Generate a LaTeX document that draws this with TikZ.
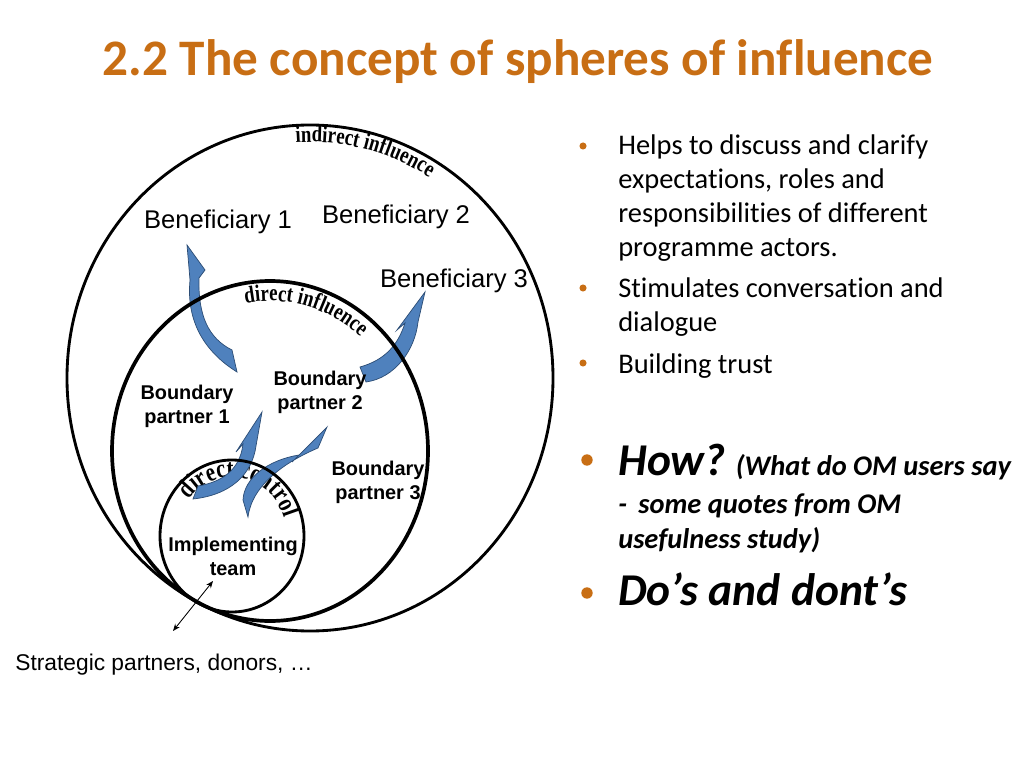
\documentclass[tikz,border=0pt]{standalone}
\usepackage{fontspec}
\setmainfont{Carlito}[Ligatures=CommonOff]
\newfontfamily\arialfont{Liberation Sans}
\newfontfamily\curvefont{Liberation Serif}[FakeStretch=0.8]
\usetikzlibrary{decorations.text, arrows.meta}
\definecolor{titleorange}{RGB}{200,110,20}
\definecolor{arrowblue}{RGB}{79,129,189}
\definecolor{arrowline}{RGB}{44,77,117}
\tikzset{
sphere/.style={draw, line width=#1}, % the three spheres
actor/.style={font=\arialfont\fontsize{18}{22}\selectfont, inner sep=0pt},
partner/.style={font=\arialfont\bfseries\fontsize{14}{17}\selectfont, align=center, inner sep=0pt},
inflarrow/.style={fill=arrowblue, draw=arrowline, line width=0.5pt}, % blue curved block arrows
itemline/.style={font=\fontsize{20}{24}\selectfont, anchor=base west, inner sep=0pt},
bulletdot/.style={circle, fill=titleorange, inner sep=0pt, minimum size=#1},
curved/.style 2 args={decorate, decoration={text along path, text align=center, text={|\curvefont\bfseries\fontsize{#2}{#2}\selectfont|#1}}},
}

\begin{document}
\begin{tikzpicture}[x=0.703125pt, y=0.703125pt]
        \useasboundingbox (0,0) rectangle (1024,-768);

        % title
        \node[font=\bfseries\fontsize{36}{42}\selectfont, text=titleorange, anchor=base, inner sep=0pt] (title) at (518,-76) {2.2 The concept of spheres of influence};

        % centres of the spheres
        \coordinate (outer) at (310,-378);
        \coordinate (middle) at (270,-451);
        \coordinate (inner) at (232,-536);

        % texts along the spheres
        \path[curved={indirect influence}{16.5}, shift={(outer)}] (110:226 and 236) arc[start angle=110, end angle=42, x radius=226, y radius=236];
        \path[curved={direct influence}{16.5}, shift={(middle)}] (112:139 and 150) arc[start angle=112, end angle=38, x radius=139, y radius=150];
        \path[curved={direct control}{18.5}, shift={(inner)}] (170:55 and 59) arc[start angle=170, end angle=-10, x radius=55, y radius=59];

        % curved arrows
        \draw[inflarrow] (187,-245) -- (205,-270) -- (199,-278) .. controls (198,-315) and (208,-338) .. (232,-350) -- (237,-372) .. controls (205,-352) and (186,-322) .. (190,-280) -- (189,-268) -- cycle;
        \draw[inflarrow] (425,-292) -- (397,-330) -- (405,-323) .. controls (398,-345) and (385,-360) .. (360,-367) -- (366,-382) .. controls (395,-378) and (415,-350) .. (418,-322) -- cycle;
        \draw[inflarrow] (262,-412) -- (236,-452) -- (243,-444) .. controls (240,-470) and (222,-482) .. (198,-486) -- (193,-499) .. controls (230,-495) and (252,-475) .. (256,-446) -- cycle;
        \draw[inflarrow] (327,-427) -- (292,-462) -- (299,-455) .. controls (268,-460) and (244,-478) .. (243,-500) -- (248,-517) .. controls (252,-485) and (285,-462) .. (318,-448) -- cycle;

        % spheres
        \draw[sphere=2pt] (outer) ellipse [x radius=243, y radius=253];
        \draw[sphere=2.6pt] (middle) ellipse [x radius=158, y radius=170];
        \draw[sphere=2pt] (inner) ellipse [x radius=72, y radius=76];

        % actors
        \node[actor] (ben1) at (218,-222) {Beneficiary 1};
        \node[actor] (ben2) at (396,-217) {Beneficiary 2};
        \node[actor] (ben3) at (454,-281) {Beneficiary 3};
        \node[partner] (bp1) at (187,-406) {Boundary\\partner 1};
        \node[partner] (bp2) at (320,-392) {Boundary\\partner 2};
        \node[partner] (bp3) at (378,-482) {Boundary\\partner 3};
        \node[partner] (team) at (233,-556) {Implementing\\team};
        \node[font=\arialfont\fontsize{16}{19}\selectfont, inner sep=0pt] (strat) at (164,-665) {Strategic partners, donors, …};

        \coordinate (stratend) at (173,-631);
        \coordinate (teamend) at (213,-581);
        \draw[<->, >={Stealth[length=5pt, width=4pt]}, line width=0.6pt] (stratend) -- (teamend);

        % bullet list
        \node[bulletdot=5pt] (d1) at (583,-146) {};
        \node[itemline] (h1) at (618,-155) {Helps to discuss and clarify};
        \node[itemline] (h2) at (618,-189) {expectations, roles and};
        \node[itemline] (h3) at (618,-223) {responsibilities of different};
        \node[itemline] (h4) at (618,-257) {programme actors.};
        \node[bulletdot=5pt] (d2) at (583,-288) {};
        \node[itemline] (s1) at (618,-298) {Stimulates conversation and};
        \node[itemline] (s2) at (618,-332) {dialogue};
        \node[bulletdot=5pt] (d3) at (583,-363) {};
        \node[itemline] (b1) at (618,-373) {Building trust};
        \node[bulletdot=8pt] (d4) at (587,-460) {};
        \node[itemline, font=\bfseries\itshape\fontsize{20}{24}\selectfont] (how) at (618,-475) {{\fontsize{32}{38}\selectfont How?}\hspace{7pt}(What do OM users say};
        \node[itemline, font=\bfseries\itshape\fontsize{20}{24}\selectfont] (q1) at (618,-513) {-\hspace{8pt}some quotes from OM};
        \node[itemline, font=\bfseries\itshape\fontsize{20}{24}\selectfont] (q2) at (618,-548) {usefulness study)};
        \node[bulletdot=8pt] (d5) at (587,-593) {};
        \node[itemline, font=\bfseries\itshape\fontsize{32}{38}\selectfont] (dos) at (618,-605) {Do’s and dont’s};
\end{tikzpicture}
\end{document}
